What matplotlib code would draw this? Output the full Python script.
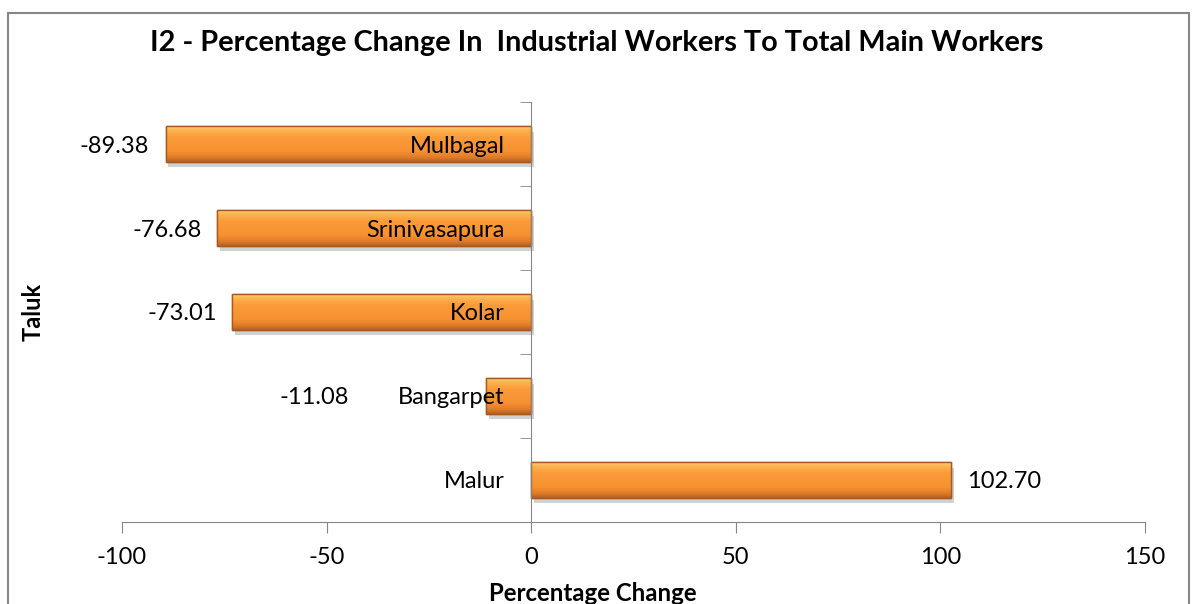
import numpy as np
import matplotlib
matplotlib.use("Agg")
import matplotlib.pyplot as plt
from matplotlib.patches import Rectangle
from matplotlib.colors import LinearSegmentedColormap
import matplotlib.patheffects as pe

plt.rcParams["font.family"] = ["Lato", "DejaVu Sans"]

talukas = ["Malur", "Bangarpet", "Kolar", "Srinivasapura", "Mulbagal"]
pct_change = [102.70, -11.08, -73.01, -76.68, -89.38]
value_labels = ["102.70", "-11.08", "-73.01", "-76.68", "-89.38"]
x_ticks = [-100, -50, 0, 50, 100, 150]

TITLE = "I2 - Percentage Change In  Industrial Workers To Total Main Workers"
AXIS_GREY = "#868686"
FS = 17

fig = plt.figure(figsize=(11.93, 6.04), dpi=100)
ax = fig.add_axes([0.1023, 0.1358, 0.8575, 0.6953])

# chart border (bottom edge runs off the image)
fig.add_artist(Rectangle((8 / 1193, -0.05), (1189 - 8) / 1193, 1.05 - 13 / 604,
                         transform=fig.transFigure, fill=False,
                         edgecolor=AXIS_GREY, linewidth=1.5))

ypos = np.arange(len(talukas))
bars = ax.barh(ypos, pct_change, height=0.42, color="#F79433",
               edgecolor="#B5651D", linewidth=1.0, zorder=3)

# orange bevel gradient on each bar, plus a soft shadow
grad_cmap = LinearSegmentedColormap.from_list(
    "bevel", [(0.0, "#B0602A"), (0.12, "#E07C26"), (0.3, "#F79131"),
              (0.7, "#FA9B3A"), (0.88, "#FCB24E"), (1.0, "#FDCB70")])
grad = np.linspace(0, 1, 64).reshape(-1, 1)
for b in bars:
    x0, y0 = b.get_x(), b.get_y()
    w, h = b.get_width(), b.get_height()
    im = ax.imshow(grad, cmap=grad_cmap, aspect="auto", origin="lower",
                   extent=(x0, x0 + w, y0, y0 + h), zorder=3.1,
                   interpolation="bicubic")
    im.set_clip_path(b)
    b.set_path_effects([pe.SimplePatchShadow(offset=(2, -4), shadow_rgbFace="#9a9a9a",
                                             alpha=0.45), pe.Normal()])
    ax.add_patch(Rectangle((x0, y0), w, h, fill=False, edgecolor="#A85A1E",
                           linewidth=1.0, zorder=3.2))

ax.set_xlim(-100, 150)
ax.set_ylim(-0.5, len(talukas) - 0.5)

# spines: y axis crosses at zero
for s in ["top", "right"]:
    ax.spines[s].set_visible(False)
ax.spines["left"].set_position(("data", 0))
ax.spines["left"].set_color(AXIS_GREY)
ax.spines["bottom"].set_color(AXIS_GREY)
ax.spines["left"].set_zorder(4)

ax.set_xticks(x_ticks)
ax.set_xticklabels([str(t) for t in x_ticks])
ax.tick_params(axis="x", direction="out", length=8, color=AXIS_GREY,
               labelsize=FS, pad=10)

ax.set_yticks([])
ax.set_yticks(np.arange(len(talukas) + 1) - 0.5, minor=True)
ax.tick_params(axis="y", which="minor", direction="out", length=8,
               color=AXIS_GREY)

# category names sit just left of the zero line, over the bars
for y, name in zip(ypos, talukas):
    ax.annotate(name, xy=(0, y), xytext=(-19, 0), textcoords="offset points",
                ha="right", va="center_baseline", fontsize=FS, zorder=6)

# data labels
offsets = [11.5, -99, -11, -11, -12]
for y, v, lab, off in zip(ypos, pct_change, value_labels, offsets):
    ax.annotate(lab, xy=(v, y), xytext=(off, 0), textcoords="offset points",
                ha="left" if v > 0 else "right", va="center_baseline", fontsize=FS)

ax.set_xlabel("Percentage Change", fontsize=17.3, fontweight="bold", va="center")
ax.xaxis.set_label_coords((593 - 122) / 1023, -0.171)
ax.set_ylabel("Taluk", fontsize=17, fontweight="bold", va="center")
ax.yaxis.set_label_coords((33 - 122) / 1023, 0.5)

fig.text(0.5, 1 - 43 / 604, TITLE, ha="center", va="center",
         fontsize=20.8, fontweight="bold")

fig.savefig("out.png", dpi=100)
